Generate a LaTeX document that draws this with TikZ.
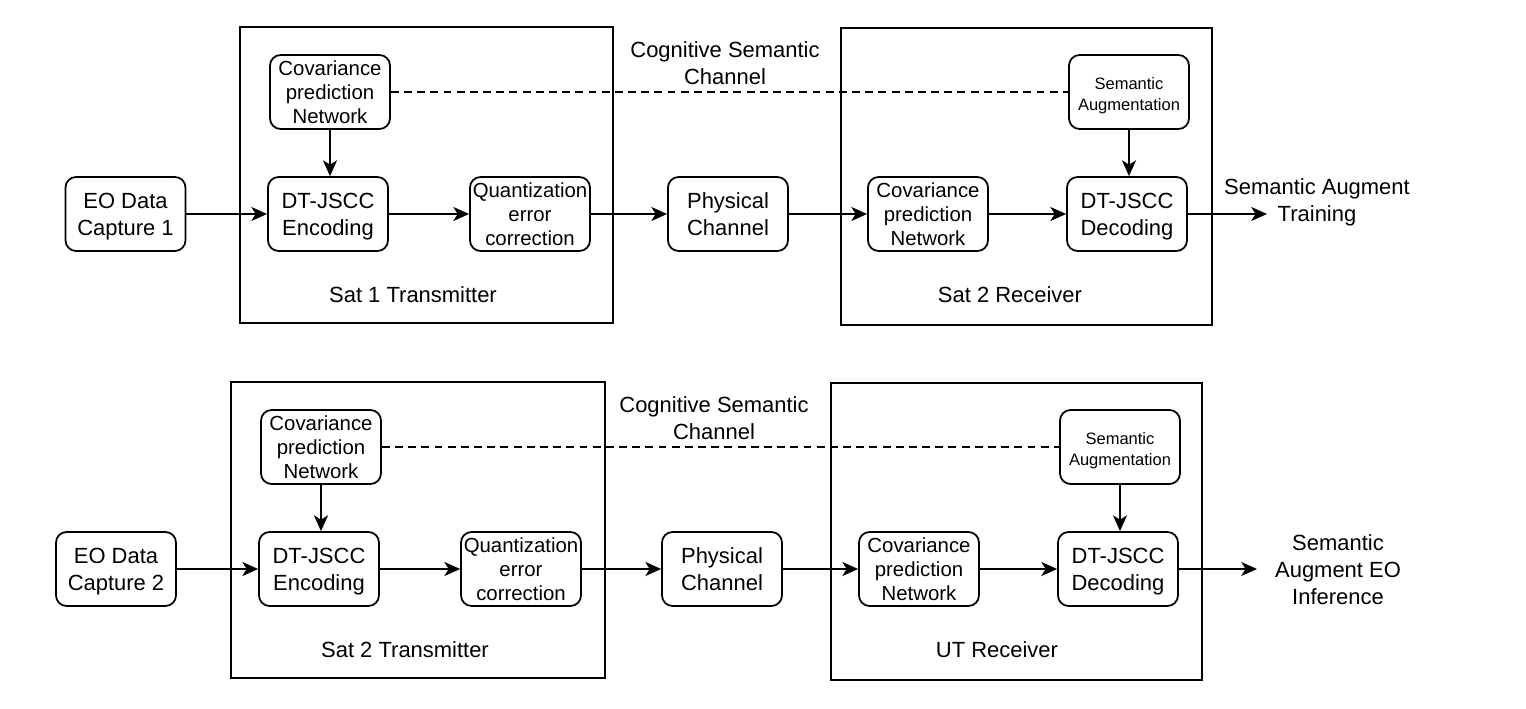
\documentclass[tikz,border=0pt]{standalone}
\usepackage{fontspec}
\setmainfont{Liberation Sans}
\usetikzlibrary{arrows.meta}

\begin{document}
\begin{tikzpicture}[x=0.02cm, y=-0.02cm,
        blk/.style={draw, line width=1pt, rounded corners=6pt, minimum width=2.4cm, minimum height=1.48cm, align=center, inner sep=1pt, font=\fontsize{12.5}{15.9}\selectfont, text height=27.6pt, text depth=2.6pt},
        blkthree/.style={draw, line width=1pt, rounded corners=6pt, minimum width=2.4cm, minimum height=1.48cm, align=center, inner sep=1pt, font=\fontsize{11.6}{13.6}\selectfont},
        blkaug/.style={blk, font=\fontsize{9.4}{11.9}\selectfont, text height=23.3pt, text depth=2pt},
        frame/.style={draw, line width=1pt, inner sep=0pt},
        txt/.style={align=center, font=\fontsize{12.5}{15.4}\selectfont},
        flow/.style={line width=1pt, -{Stealth[length=9pt, width=8pt, inset=2.5pt]}},
        link/.style={line width=1pt, dash pattern=on 4.5pt off 3pt}]
                \useasboundingbox (0,0) rectangle (1526,709);

                % Frames, top row
                \node[frame, minimum width=7.46cm, minimum height=5.92cm] (txfrm1) at (426.5,175) {};
                \node[frame, minimum width=7.42cm, minimum height=5.94cm] (rxfrm1) at (1026.5,176.5) {};
                \node[txt] (txlab1) at (413,295) {Sat 1 Transmitter};
                \node[txt] (rxlab1) at (1010,295) {Sat 2 Receiver};
                \node[txt] (cog1) at (725,63) {Cognitive Semantic\\Channel};

                % Blocks, top row
                \node[blk] (eo1) at (125.5,214) {EO Data\\Capture 1};
                \node[blkthree] (covt1) at (330,92) {Covariance\\prediction\\Network};
                \node[blk] (enc1) at (328,214) {DT-JSCC\\Encoding};
                \node[blkthree] (qec1) at (530,214) {Quantization\\error\\correction};
                \node[blk] (phy1) at (728,214) {Physical\\Channel};
                \node[blkthree] (covr1) at (928,214) {Covariance\\prediction\\Network};
                \node[blkaug] (aug1) at (1129,92) {Semantic\\Augmentation};
                \node[blk] (dec1) at (1127,214) {DT-JSCC\\Decoding};
                \node[txt] (out1) at (1317,202.5) {Semantic Augment\\Training};
                \coordinate (end1) at (1267,214);

                % Connectors, top row
                \draw[flow] (eo1) -- (enc1);
                \draw[flow] (enc1) -- (qec1);
                \draw[flow] (qec1) -- (phy1);
                \draw[flow] (phy1) -- (covr1);
                \draw[flow] (covr1) -- (dec1);
                \draw[flow] (dec1) -- (end1);
                \draw[flow] (covt1.south) -- (covt1.south |- enc1.north);
                \draw[flow] (aug1.south) -- (aug1.south |- dec1.north);
                \draw[link] (covt1) -- (aug1);

                % Frames, bottom row
                \node[frame, minimum width=7.48cm, minimum height=5.92cm] (txfrm2) at (418,530) {};
                \node[frame, minimum width=7.42cm, minimum height=5.94cm] (rxfrm2) at (1016.5,531.5) {};
                \node[txt] (txlab2) at (405,650) {Sat 2 Transmitter};
                \node[txt] (rxlab2) at (997,650) {UT Receiver};
                \node[txt] (cog2) at (714,418) {Cognitive Semantic\\Channel};

                % Blocks, bottom row
                \node[blk] (eo2) at (116,569) {EO Data\\Capture 2};
                \node[blkthree] (covt2) at (321,447) {Covariance\\prediction\\Network};
                \node[blk] (enc2) at (319,569) {DT-JSCC\\Encoding};
                \node[blkthree] (qec2) at (521,569) {Quantization\\error\\correction};
                \node[blk] (phy2) at (722,569) {Physical\\Channel};
                \node[blkthree] (covr2) at (919,569) {Covariance\\prediction\\Network};
                \node[blkaug] (aug2) at (1120,447) {Semantic\\Augmentation};
                \node[blk] (dec2) at (1118,569) {DT-JSCC\\Decoding};
                \node[txt] (out2) at (1338,570) {Semantic\\Augment EO\\Inference};
                \coordinate (end2) at (1257,569);

                % Connectors, bottom row
                \draw[flow] (eo2) -- (enc2);
                \draw[flow] (enc2) -- (qec2);
                \draw[flow] (qec2) -- (phy2);
                \draw[flow] (phy2) -- (covr2);
                \draw[flow] (covr2) -- (dec2);
                \draw[flow] (dec2) -- (end2);
                \draw[flow] (covt2.south) -- (covt2.south |- enc2.north);
                \draw[flow] (aug2.south) -- (aug2.south |- dec2.north);
                \draw[link] (covt2) -- (aug2);
            \end{tikzpicture}
\end{document}
